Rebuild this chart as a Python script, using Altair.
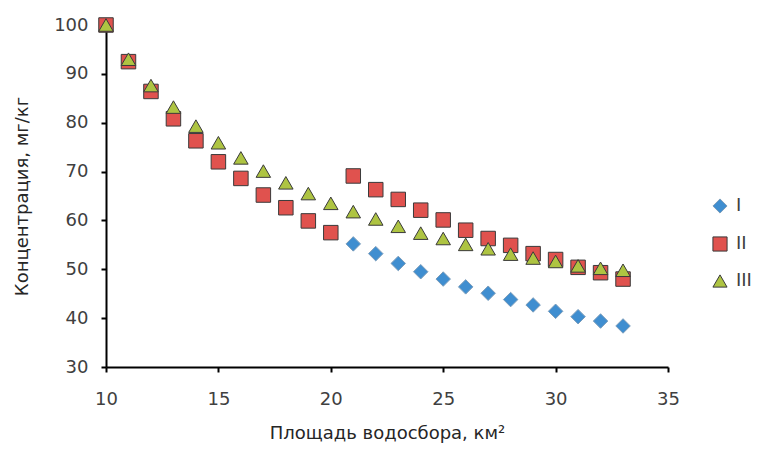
import altair as alt
import pandas as pd

x_I = list(range(21, 34))
y_I = [55.2, 53.2, 51.2, 49.5, 48.0, 46.4, 45.1, 43.8, 42.7, 41.4, 40.3, 39.4, 38.4]

x_II = list(range(10, 34))
y_II = [100.0, 92.5, 86.4, 80.8, 76.3, 72.0, 68.6, 65.2, 62.6, 59.9, 57.5,
        69.1, 66.3, 64.3, 62.1, 60.1, 58.0, 56.3, 54.9, 53.2, 52.0, 50.4, 49.3, 48.0]

x_III = list(range(10, 34))
y_III = [100.0, 93.0, 87.6, 83.2, 79.3, 75.9, 72.8, 70.1, 67.7, 65.5, 63.5,
         61.8, 60.3, 58.8, 57.4, 56.3, 55.1, 54.2, 53.1, 52.3, 51.6, 50.7, 50.2, 49.8]

series_names = ["I", "II", "III"]
x_ticks = [10, 15, 20, 25, 30, 35]
y_ticks = [30, 40, 50, 60, 70, 80, 90, 100]

rows = []
for name, xs, ys in zip(series_names, [x_I, x_II, x_III], [y_I, y_II, y_III]):
    for xv, yv in zip(xs, ys):
        rows.append({"s": name, "x": xv, "y": yv})
df = pd.DataFrame(rows)
df["order"] = df["s"].map({"I": 0, "II": 1, "III": 2})

font = "DejaVu Sans"

chart = alt.Chart(df).mark_point(filled=True, opacity=1, size=210, strokeWidth=1).encode(
    x=alt.X("x:Q", scale=alt.Scale(domain=[10, 35], nice=False),
            axis=alt.Axis(values=x_ticks, title="Площадь водосбора, км²", grid=False,
                          labelPadding=18, titlePadding=16, tickSize=5, labelFlush=False)),
    y=alt.Y("y:Q", scale=alt.Scale(domain=[30, 100], nice=False, zero=False),
            axis=alt.Axis(values=y_ticks, title="Концентрация, мг/кг", grid=False,
                          labelPadding=13, titlePadding=22, tickSize=5, labelFlush=False)),
    color=alt.Color("s:N", scale=alt.Scale(domain=series_names,
                                           range=["#3F8ED0", "#E0524E", "#AEC442"]),
                    legend=alt.Legend(title=None, orient="none", legendX=605, legendY=172,
                                      rowPadding=18, labelFontSize=18, labelFont=font,
                                      labelColor="#404040", symbolSize=200, labelOffset=7,
                                      symbolStrokeWidth=1)),
    shape=alt.Shape("s:N", scale=alt.Scale(domain=series_names,
                                           range=["diamond", "square", "triangle-up"])),
    stroke=alt.Stroke("s:N", scale=alt.Scale(domain=series_names,
                                             range=["#7a9cba", "#3a3a3a", "#3a3a3a"])),
    order=alt.Order("order:Q"),
).properties(
    width=562, height=342,
    autosize=alt.AutoSizeParams(type="none"),
    padding={"top": 17, "left": 98, "right": 83, "bottom": 77},
).configure_view(stroke=None).configure_axis(
    domainColor="#000000", domainWidth=2, tickColor="#000000", tickWidth=2,
    labelFont=font, labelFontSize=18, labelColor="#404040",
    titleFont=font, titleFontSize=18, titleFontWeight="normal", titleColor="#262626",
)

chart.save("out.html", embed_options={"renderer": "svg", "actions": False})
